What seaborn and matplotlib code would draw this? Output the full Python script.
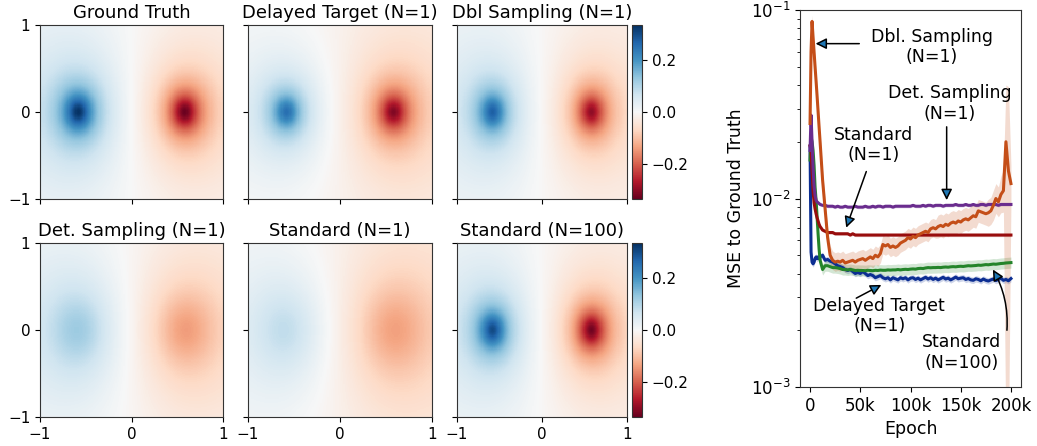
import numpy as np
import pandas as pd
import matplotlib
matplotlib.use("Agg")
import matplotlib.pyplot as plt
import seaborn as sns
from matplotlib.ticker import FixedLocator, FixedFormatter

# ---------------- heatmap panels ----------------
panel_titles = ["Ground Truth", "Delayed Target (N=1)", "Dbl Sampling (N=1)",
                "Det. Sampling (N=1)", "Standard (N=1)", "Standard (N=100)"]
pos_amp = [0.37, 0.30, 0.31, 0.17, 0.14, 0.34]
neg_amp = [0.37, 0.33, 0.33, 0.18, 0.17, 0.36]
core_width = [0.12, 0.12, 0.12, 0.30, 0.35, 0.12]
field_offset = [0.0, -0.012, 0.0, -0.004, -0.008, 0.0]
pole_x = 0.58
stretch_y = 1.4
vlim = 0.335
cbar_ticks = [-0.2, 0.0, 0.2]
axis_ticks = ["\u22121", "0", "1"]

# ---------------- MSE curves ----------------
epochs_k = [0, 1, 2, 3, 4, 5, 6, 7, 8, 9, 10,
            12.5, 15, 17.5, 20, 22.5, 25, 27.5, 30, 32.5, 35, 37.5, 40, 42.5, 45, 47.5, 50,
            52.5, 55, 57.5, 60, 62.5, 65, 67.5, 70, 72.5, 75, 77.5, 80, 82.5, 85, 87.5, 90,
            92.5, 95, 97.5, 100, 102.5, 105, 107.5, 110, 112.5, 115, 117.5, 120, 122.5, 125,
            127.5, 130, 132.5, 135, 137.5, 140, 142.5, 145, 147.5, 150, 152.5, 155, 157.5, 160,
            162.5, 165, 167.5, 170, 172.5, 175, 177.5, 180, 182.5, 185, 187.5, 190, 192.5, 195,
            197.5, 200]

mse_dbl_sampling = [0.025, 0.060, 0.087, 0.072, 0.060, 0.050, 0.042, 0.035, 0.029, 0.024, 0.020,
                    0.0125, 0.0088, 0.0062, 0.0050, 0.0047, 0.0046, 0.00465, 0.0046, 0.0047, 0.00455, 0.0046, 0.00465, 0.0047, 0.0046, 0.0047, 0.00475,
                    0.0048, 0.0047, 0.0048, 0.0049, 0.0048, 0.0050, 0.0049, 0.0051, 0.0057, 0.0056, 0.0057, 0.0055, 0.0056, 0.0055, 0.0056, 0.0058,
                    0.0059, 0.0060, 0.0062, 0.0061, 0.0063, 0.0062, 0.0064, 0.0065, 0.0066, 0.0067, 0.0066, 0.0069, 0.0070, 0.0069,
                    0.0071, 0.0072, 0.0071, 0.0073, 0.0072, 0.0074, 0.0075, 0.0074, 0.0076, 0.0075, 0.0077, 0.0078, 0.0077, 0.0079,
                    0.0081, 0.0080, 0.0086, 0.0085, 0.0084, 0.0083, 0.0084, 0.0086, 0.0092, 0.0100, 0.0096, 0.0105, 0.0110, 0.0200,
                    0.0140, 0.0120]
dbl_band_up = [1.10, 1.08, 1.08, 1.10, 1.10, 1.10, 1.10, 1.10, 1.10, 1.10, 1.10,
               1.12, 1.12, 1.12, 1.12, 1.12, 1.12, 1.12, 1.12, 1.12, 1.12, 1.12, 1.12, 1.12, 1.12, 1.12, 1.12,
               1.12, 1.12, 1.12, 1.12, 1.12, 1.12, 1.12, 1.12, 1.12, 1.12, 1.12, 1.12, 1.12, 1.12, 1.12, 1.12,
               1.12, 1.12, 1.12, 1.12, 1.12, 1.12, 1.12, 1.12, 1.12, 1.12, 1.12, 1.12, 1.12, 1.12,
               1.15, 1.15, 1.15, 1.15, 1.15, 1.15, 1.15, 1.15, 1.15, 1.15, 1.15, 1.15, 1.15, 1.15,
               1.15, 1.15, 1.15, 1.15, 1.15, 1.15, 1.18, 1.18, 1.20, 1.20, 1.20, 1.25, 1.30, 2.00,
               2.80, 1.25]
dbl_band_down = [1.10, 1.08, 1.08, 1.10, 1.10, 1.10, 1.10, 1.10, 1.10, 1.10, 1.10,
                 1.12, 1.12, 1.12, 1.12, 1.12, 1.12, 1.12, 1.12, 1.12, 1.12, 1.12, 1.12, 1.12, 1.12, 1.12, 1.12,
                 1.12, 1.12, 1.12, 1.12, 1.12, 1.12, 1.12, 1.12, 1.12, 1.12, 1.12, 1.12, 1.12, 1.12, 1.12, 1.12,
                 1.12, 1.12, 1.12, 1.12, 1.12, 1.12, 1.12, 1.12, 1.12, 1.12, 1.12, 1.12, 1.12, 1.12,
                 1.15, 1.15, 1.15, 1.15, 1.15, 1.15, 1.15, 1.15, 1.15, 1.15, 1.15, 1.15, 1.15, 1.15,
                 1.15, 1.15, 1.15, 1.15, 1.15, 1.15, 1.18, 1.18, 1.20, 1.20, 1.20, 1.25, 1.30, 40.0,
                 28.0, 1.25]

mse_det_sampling = [0.018, 0.0277, 0.020, 0.0145, 0.0116, 0.0104, 0.0098, 0.0096, 0.0095, 0.0094, 0.0093,
                    0.0092, 0.0092, 0.0091, 0.0091, 0.0091, 0.0090, 0.0091, 0.0090, 0.0090, 0.0091, 0.0090, 0.0090, 0.0090, 0.0091, 0.0090, 0.0090,
                    0.0090, 0.0091, 0.0090, 0.0090, 0.0091, 0.0090, 0.0091, 0.0091, 0.0090, 0.0091, 0.0091, 0.0091, 0.0090, 0.0091, 0.0091, 0.0091,
                    0.0091, 0.0091, 0.0091, 0.0091, 0.0092, 0.0091, 0.0091, 0.0091, 0.0092, 0.0091, 0.0092, 0.0092, 0.0091, 0.0092,
                    0.0092, 0.0092, 0.0091, 0.0092, 0.0092, 0.0092, 0.0092, 0.0093, 0.0092, 0.0092, 0.0092, 0.0093, 0.0092, 0.0092,
                    0.0093, 0.0092, 0.0092, 0.0093, 0.0093, 0.0092, 0.0093, 0.0093, 0.0093, 0.0093, 0.0092, 0.0093, 0.0093, 0.0093,
                    0.0093, 0.0093]

mse_standard_n1 = [0.019, 0.018, 0.014, 0.011, 0.0095, 0.0088, 0.0083, 0.0079, 0.0076, 0.0073, 0.0071,
                   0.0068, 0.0067, 0.0066, 0.0066, 0.0066, 0.0065, 0.0065, 0.0065, 0.0065, 0.0065, 0.0065, 0.0064, 0.0065, 0.0064, 0.0064, 0.0064,
                   0.0064, 0.0064, 0.0064, 0.0064, 0.0064, 0.0064, 0.0064, 0.0064, 0.0064, 0.0064, 0.0064, 0.0064, 0.0064, 0.0064, 0.0064, 0.0064,
                   0.0064, 0.0064, 0.0064, 0.0064, 0.0064, 0.0064, 0.0064, 0.0064, 0.0064, 0.0064, 0.0064, 0.0064, 0.0064, 0.0064,
                   0.0064, 0.0064, 0.0064, 0.0064, 0.0064, 0.0064, 0.0064, 0.0064, 0.0064, 0.0064, 0.0064, 0.0064, 0.0064, 0.0064,
                   0.0064, 0.0064, 0.0064, 0.0064, 0.0064, 0.0064, 0.0064, 0.0064, 0.0064, 0.0064, 0.0064, 0.0064, 0.0064, 0.0064,
                   0.0064, 0.0064]

mse_standard_n100 = [0.016, 0.0212, 0.020, 0.018, 0.015, 0.0115, 0.0098, 0.0080, 0.0065, 0.0054, 0.0047,
                     0.0042, 0.0044, 0.0044, 0.00435, 0.0043, 0.0043, 0.00428, 0.00425, 0.0042, 0.0042, 0.00418, 0.0042, 0.00418, 0.00415, 0.00416, 0.00415,
                     0.00415, 0.00414, 0.00416, 0.00415, 0.00414, 0.00416, 0.00415, 0.00417, 0.00416, 0.00416, 0.00418, 0.00417, 0.00418, 0.00418, 0.0042, 0.00418,
                     0.0042, 0.00421, 0.0042, 0.00422, 0.00423, 0.00422, 0.00425, 0.00426, 0.00425, 0.00428, 0.0043, 0.00429, 0.0043, 0.0043,
                     0.00431, 0.0043, 0.00432, 0.00433, 0.00432, 0.00434, 0.00435, 0.00434, 0.00436, 0.00437, 0.00436, 0.00438, 0.0044, 0.00439,
                     0.0044, 0.00441, 0.00443, 0.00442, 0.00444, 0.00446, 0.00445, 0.00447, 0.00449, 0.00448, 0.0045, 0.00452, 0.00453, 0.00455,
                     0.00456, 0.00457]

mse_delayed_target = [0.019, 0.0052, 0.0046, 0.0045, 0.0046, 0.0048, 0.0049, 0.0048, 0.0049, 0.0048, 0.0049,
                      0.0050, 0.0047, 0.00475, 0.00465, 0.0046, 0.0045, 0.0044, 0.00435, 0.0043, 0.0042, 0.00415, 0.0042, 0.0041, 0.0040, 0.00405, 0.0040,
                      0.0041, 0.0040, 0.0039, 0.00395, 0.0039, 0.0038, 0.00385, 0.0039, 0.0038, 0.00375, 0.0038, 0.0037, 0.0038, 0.00375, 0.0037, 0.0038,
                      0.00375, 0.0038, 0.0037, 0.00378, 0.0038, 0.00372, 0.00378, 0.0037, 0.00376, 0.00382, 0.00374, 0.0038, 0.00372, 0.00378,
                      0.0037, 0.00376, 0.00382, 0.00374, 0.00378, 0.0037, 0.00376, 0.00383, 0.00375, 0.00378, 0.0038, 0.00372, 0.00376, 0.0037,
                      0.00368, 0.00375, 0.00372, 0.00366, 0.00374, 0.00368, 0.00365, 0.0037, 0.00374, 0.00367, 0.00372, 0.00378, 0.00368, 0.00372,
                      0.00366, 0.00376]

series_names = ["Delayed Target (N=1)", "Standard (N=100)", "Standard (N=1)",
                "Det. Sampling (N=1)", "Dbl. Sampling (N=1)"]
series_colors = ["#0c2e92", "#24842a", "#980d0d", "#6a2c8e", "#c44e18"]
series_band = [1.04, 1.07, 1.02, 1.02, None]

x_ticks_k = [0, 50, 100, 150, 200]
x_tick_labels = ["0", "50k", "100k", "150k", "200k"]

# ---------------- figure ----------------
W, H = 1037, 446
fig = plt.figure(figsize=(W / 100, H / 100), dpi=100)

def rect(l, t, r, b):
    return [l / W, 1 - b / H, (r - l) / W, (b - t) / H]

col_px = [(40, 223), (248, 432), (457, 627)]
row_px = [(25, 199), (243, 417)]
cbar_px = (632, 642)

n = 160
centers = -1 + (np.arange(n) + 0.5) * 2 / n
X, Y = np.meshgrid(centers, centers[::-1])
rl = np.sqrt((X + pole_x) ** 2 + (Y / stretch_y) ** 2)
rr = np.sqrt((X - pole_x) ** 2 + (Y / stretch_y) ** 2)

for k in range(6):
    r, c = divmod(k, 3)
    ax = fig.add_axes(rect(col_px[c][0], row_px[r][0], col_px[c][1], row_px[r][1]))
    s = core_width[k]
    field = (pos_amp[k] * s / np.sqrt(rl ** 2 + s ** 2)
             - neg_amp[k] * s / np.sqrt(rr ** 2 + s ** 2) + field_offset[k])
    df = pd.DataFrame(field)
    if c == 2:
        cax = fig.add_axes(rect(cbar_px[0], row_px[r][0], cbar_px[1], row_px[r][1]))
        sns.heatmap(df, ax=ax, cmap="RdBu", vmin=-vlim, vmax=vlim, cbar=True,
                    cbar_ax=cax, cbar_kws=dict(ticks=cbar_ticks),
                    xticklabels=False, yticklabels=False, rasterized=True)
        cax.tick_params(labelsize=11, length=3.5, width=0.8)
        cb = ax.collections[0].colorbar
        cb.outline.set_visible(True)
        cb.outline.set_linewidth(0.8)
        cb.outline.set_edgecolor("#333333")
    else:
        sns.heatmap(df, ax=ax, cmap="RdBu", vmin=-vlim, vmax=vlim, cbar=False,
                    xticklabels=False, yticklabels=False, rasterized=True)
    ax.set_xticks([0, n / 2, n])
    ax.set_yticks([0, n / 2, n])
    ax.set_xticklabels(axis_ticks if r == 1 else [])
    ax.set_yticklabels(axis_ticks[::-1] if c == 0 else [])
    ax.tick_params(labelsize=11, length=3.5, width=0.8, direction="out")
    for t in ax.get_yticklabels():
        t.set_rotation(0)
    for sp in ax.spines.values():
        sp.set_visible(True)
        sp.set_linewidth(0.8)
        sp.set_edgecolor("#333333")
    ax.set_title(panel_titles[k], fontsize=13, pad=5)

# ---------------- right plot ----------------
axr = fig.add_axes(rect(800, 10, 1021, 387))
all_vals = [mse_delayed_target, mse_standard_n100, mse_standard_n1,
            mse_det_sampling, mse_dbl_sampling]
frames = []
for name, vals in zip(series_names, all_vals):
    frames.append(pd.DataFrame({"epoch": epochs_k, "mse": vals, "method": name}))
long_df = pd.concat(frames, ignore_index=True)

ep = np.array(epochs_k)
for name, vals, col, band in zip(series_names, all_vals, series_colors, series_band):
    v = np.array(vals)
    if band is None:
        lo = v / np.array(dbl_band_down)
        hi = v * np.array(dbl_band_up)
    else:
        lo = v / band
        hi = v * band
    axr.fill_between(ep, lo, hi, color=col, alpha=0.2, lw=0)

sns.lineplot(data=long_df, x="epoch", y="mse", hue="method",
             palette=dict(zip(series_names, series_colors)), hue_order=series_names,
             linewidth=2.2, legend=False, ax=axr, estimator=None)

axr.set_yscale("log")
axr.set_ylim(1e-3, 1e-1)
axr.set_xlim(-10, 210)
axr.xaxis.set_major_locator(FixedLocator(x_ticks_k))
axr.xaxis.set_major_formatter(FixedFormatter(x_tick_labels))
axr.tick_params(labelsize=12)
axr.set_xlabel("Epoch", fontsize=12.5)
axr.set_ylabel("MSE to Ground Truth", fontsize=12.5)
for sp in axr.spines.values():
    sp.set_linewidth(0.8)
    sp.set_edgecolor("#333333")

arrow_kw = dict(arrowstyle="-|>,head_length=0.5,head_width=0.25", edgecolor="black",
                facecolor="#1f77b4", lw=1.1, shrinkA=0, shrinkB=0, mutation_scale=13)
fs = 12.5
axr.text(121, 0.0636, "Dbl. Sampling\n(N=1)", ha="center", va="center", fontsize=fs)
axr.annotate("", xy=(5.5, 0.0663), xytext=(49, 0.0663), arrowprops=arrow_kw)
axr.text(139, 0.032, "Det. Sampling\n(N=1)", ha="center", va="center", fontsize=fs)
axr.annotate("", xy=(136, 0.0098), xytext=(136, 0.024), arrowprops=arrow_kw)
axr.text(63, 0.0192, "Standard\n(N=1)", ha="center", va="center", fontsize=fs)
axr.annotate("", xy=(36, 0.0070), xytext=(56, 0.0139), arrowprops=arrow_kw)
axr.text(69, 0.00238, "Delayed Target\n(N=1)", ha="center", va="center", fontsize=fs)
axr.annotate("", xy=(71, 0.00348), xytext=(46, 0.00296), arrowprops=arrow_kw)
axr.text(151, 0.00152, "Standard\n(N=100)", ha="center", va="center", fontsize=fs)
axr.annotate("", xy=(182, 0.0042), xytext=(196, 0.0020),
             arrowprops=dict(arrow_kw, connectionstyle="arc3,rad=0.15"))

fig.savefig("out.png", dpi=100)
